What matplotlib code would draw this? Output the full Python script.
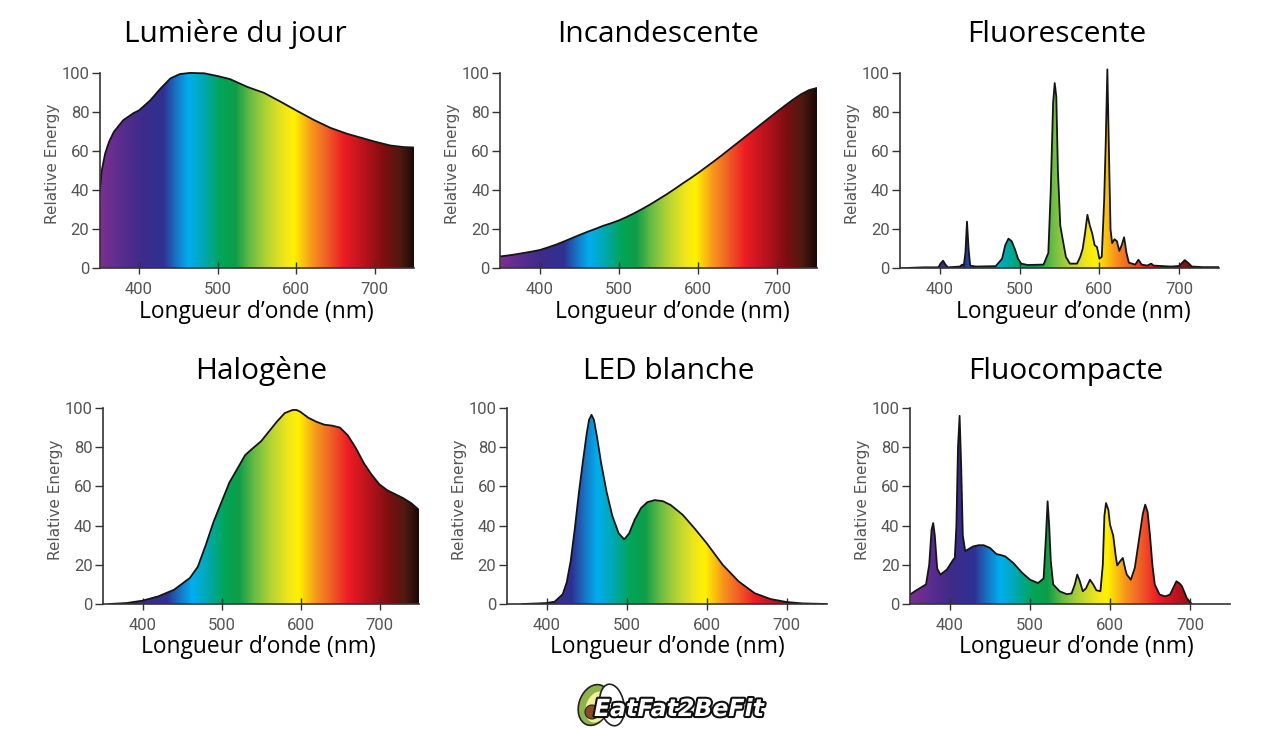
import matplotlib
matplotlib.use('Agg')
import matplotlib.pyplot as plt
import matplotlib.patheffects as pe
import numpy as np
from matplotlib.colors import LinearSegmentedColormap
from matplotlib.patches import Polygon, Ellipse, Circle

# Données (longueur d'onde en nm, énergie relative)
daylight_nm = [350, 352.5, 357, 362, 368, 380, 393, 400, 414, 427, 440, 452, 465, 483,
               500, 516, 538, 559, 580, 600, 623, 644, 665, 687, 700, 720, 737, 750]
daylight_e = [38.5, 50, 59, 65, 70, 76, 79.6, 81, 86, 92, 97.4, 99.6, 100.2, 100,
              98.6, 97, 93, 90, 85.5, 81, 76, 72, 69, 66.5, 65, 63, 62.2, 62]

incand_nm = [350, 360, 370, 380, 390, 400, 410, 420, 430, 440, 450, 460, 470, 480,
             490, 500, 510, 520, 530, 540, 550, 560, 570, 580, 590, 600, 610, 620,
             630, 640, 650, 660, 670, 680, 690, 700, 710, 720, 730, 740, 750]
incand_e = [6.2, 6.7, 7.3, 8, 8.7, 9.5, 10.8, 12.2, 13.8, 15.5, 17.2, 18.8, 20.3, 21.9,
            23.2, 24.7, 26.5, 28.5, 30.7, 33, 35.5, 38, 40.7, 43.5, 46.2, 49, 52, 55,
            58.1, 61.3, 64.5, 67.7, 70.9, 74.1, 77.3, 80.5, 83.6, 86.6, 89.3, 91.4, 92.5]

fluo_nm = [350, 360, 380, 398, 401, 404, 407, 410, 425, 428, 430, 432, 434, 436, 438,
           445, 470, 478, 482, 486, 490, 494, 498, 502, 510, 530, 536, 539, 542, 544,
           546, 548, 551, 554, 558, 563, 572, 576, 579, 582, 585, 588, 591, 594, 597,
           600, 603, 606, 608, 610, 612, 614, 616, 619, 622, 625, 628, 631, 634, 637,
           645, 649, 653, 660, 665, 668, 690, 700, 704, 707, 711, 716, 730, 750]
fluo_e = [0, 0.3, 0.6, 0.6, 2.5, 4, 2, 0.6, 1, 2, 1.5, 8, 24, 10, 1.5,
          1, 1.2, 5, 12, 15.3, 14, 10, 5, 2.5, 1.8, 2, 8, 40, 85, 95,
          88, 50, 22, 15, 6, 2.5, 2.5, 6, 10, 18, 27.5, 22, 18, 12, 11,
          5, 6, 35, 65, 102, 60, 20, 13, 15, 14, 9, 12, 16, 8, 3,
          2, 4.5, 2, 1.5, 2.5, 1.5, 1, 1.3, 3, 4.3, 3, 1, 0.7, 0.7]

halo_nm = [358, 380, 400, 420, 440, 460, 470, 480, 490, 500, 510, 520, 530, 540, 550,
           560, 570, 580, 590, 595, 600, 610, 620, 630, 640, 650, 660, 670, 680, 690,
           700, 710, 720, 730, 740, 750]
halo_e = [0, 0.5, 1.7, 3.9, 7.3, 13.3, 19, 30, 42, 52, 62, 69, 76, 79.6, 83,
          88, 93, 97.4, 99, 99, 98, 95, 93, 91.5, 91, 90, 86, 79.6, 72, 66,
          61, 58, 56, 54, 51.5, 48]

led_nm = [370, 390, 400, 410, 420, 425, 430, 435, 440, 445, 450, 453, 456, 459, 463,
          468, 475, 482, 490, 497, 503, 510, 518, 526, 535, 545, 555, 570, 585, 600,
          620, 640, 660, 680, 700, 720, 750]
led_e = [0, 0.3, 0.5, 1.2, 5, 11, 22, 38, 56, 72, 87, 94, 96.5, 94, 85,
         72, 57, 45, 36, 33, 36, 43, 49, 52, 53, 52.5, 50.5, 45.5, 38.5, 31,
         20, 11.5, 5.5, 2.5, 1, 0.3, 0]

cfl_nm = [350, 356, 364, 370, 374, 377, 379, 381, 384, 388, 396, 404, 406, 408, 410,
          412, 414, 416, 419, 429, 436, 442, 450, 458, 465, 469, 479, 490, 500, 510,
          517, 520, 522, 524, 526, 529, 537, 546, 552, 556, 559, 562, 566, 570, 575,
          579, 583, 588, 591, 593, 595, 598, 600, 604, 607, 609, 613, 616, 619, 621,
          626, 631, 637, 641, 644, 647, 650, 653, 656, 662, 669, 675, 680, 683, 687,
          690, 696, 702]
cfl_e = [4.8, 6.5, 8.5, 10, 20, 38, 41.3, 35, 18, 15, 17.5, 22.6, 23.5, 40, 80,
         96, 70, 35, 27, 29.4, 30, 30, 28.6, 25.5, 24.8, 24.3, 21, 16, 12.4, 10.7,
         13, 35, 52.4, 40, 22, 10, 6.5, 5, 5.4, 10, 15, 12, 6.5, 8, 12.4,
         10, 7, 6.5, 20, 45, 51.5, 48, 40.5, 35, 25, 19.7, 22, 23.5, 18, 15,
         12.4, 18.4, 35, 46, 50.7, 47, 35, 20, 9.9, 4.8, 3.9, 4.8, 9, 11.6, 10.5,
         9, 3, 0]

titles = ['Lumière du jour', 'Incandescente', 'Fluorescente',
          'Halogène', 'LED blanche', 'Fluocompacte']
series = [(daylight_nm, daylight_e), (incand_nm, incand_e), (fluo_nm, fluo_e),
          (halo_nm, halo_e), (led_nm, led_e), (cfl_nm, cfl_e)]
x_ticks = [400, 500, 600, 700]
y_ticks = [0, 20, 40, 60, 80, 100]

# Couleurs du spectre visible
spec_nm = [350, 375, 400, 430, 445, 462, 482, 502, 522, 542, 562, 585, 597, 620,
           640, 660, 690, 712, 732, 750]
spec_col = ['#7b2f91', '#5b2d8e', '#3f2b8a', '#2e3192', '#1a6fc0', '#00aeef',
            '#00a8b0', '#00a65a', '#0f9d48', '#6cbd45', '#b5d334', '#f4e61a',
            '#fff200', '#f7941d', '#f05a28', '#ed1c24', '#b0121b', '#7d0e10',
            '#4f1a10', '#1c0805']
spec_cmap = LinearSegmentedColormap.from_list(
    'spectre', [((n - 350) / 400, c) for n, c in zip(spec_nm, spec_col)])

W, H = 1280, 729
TOP = 104
fig = plt.figure(figsize=(W / 100, H / 100), dpi=100)

# (gauche px, droite px, y du 0 px, y du 100 px)
boxes = [(99.7, 414, 268.5, 73.3), (500.4, 817, 268.5, 73.3), (900, 1219, 268.5, 73.3),
         (103, 419, 604, 408), (506.7, 826.7, 604, 408), (910, 1230, 604, 408)]
title_pos = [(235, 42), (658, 42), (1057, 42), (261, 379), (669, 379), (1066, 379)]
xlabel_pos = [(256, 318), (672, 318), (1073, 318), (258, 653), (667, 653), (1076, 653)]
ylabel_mid = [164, 164, 164, 500, 500, 500]

grad = np.linspace(350, 750, 800).reshape(1, -1)

for i in range(6):
    left, right, y0, y100 = boxes[i]
    h100 = y0 - y100
    top_px = y0 - h100 * TOP / 100
    ax = fig.add_axes([left / W, 1 - y0 / H, (right - left) / W, (y0 - top_px) / H])
    nm = np.array(series[i][0], dtype=float)
    e = np.array(series[i][1], dtype=float)

    im = ax.imshow(grad, cmap=spec_cmap, extent=[350, 750, 0, TOP], aspect='auto',
                   origin='lower', interpolation='bilinear')
    verts = np.column_stack([np.r_[nm, nm[::-1]], np.r_[e, np.zeros(len(e))]])
    clip = Polygon(verts, closed=True, transform=ax.transData,
                   facecolor='none', edgecolor='none')
    ax.add_patch(clip)
    im.set_clip_path(clip)
    ax.plot(nm, e, color='#151515', lw=1.3, solid_joinstyle='round')

    ax.set_xlim(350, 750)
    ax.set_ylim(0, TOP)
    for s in ['top', 'right']:
        ax.spines[s].set_visible(False)
    ax.spines['left'].set_bounds(0, 100)
    ax.spines['bottom'].set_bounds(350, 750)
    for s in ['left', 'bottom']:
        ax.spines[s].set_color('#333333')
        ax.spines[s].set_linewidth(1.2)
    ax.set_xticks(x_ticks)
    ax.set_yticks(y_ticks)
    ax.tick_params(axis='x', direction='inout', length=8, width=1, color='#333333',
                   labelcolor='#555555', labelsize=12, pad=6)
    ax.tick_params(axis='y', direction='out', length=6, width=1, color='#333333',
                   labelcolor='#555555', labelsize=12, pad=1.5)
    for lab in ax.get_xticklabels() + ax.get_yticklabels():
        lab.set_family(['Roboto', 'DejaVu Sans'])
    ax.set_ylabel('Relative Energy', color='#555555', fontsize=11,
                  family=['DejaVu Sans'])
    ax.yaxis.set_label_coords(-40 / (right - left), (y0 - ylabel_mid[i]) / (y0 - top_px))

    tx, ty = title_pos[i]
    fig.text(tx / W, 1 - ty / H, titles[i], ha='center', va='baseline', fontsize=21.5,
             family=['Open Sans', 'DejaVu Sans'], color='black')
    lx, ly = xlabel_pos[i]
    fig.text(lx / W, 1 - ly / H, 'Longueur d’onde (nm)', ha='center', va='baseline',
             fontsize=16.4, family=['Open Sans', 'DejaVu Sans'], color='black')

# Logo
lax = fig.add_axes([560 / W, 0, 200 / W, 50 / H])
lax.set_xlim(560, 760)
lax.set_ylim(729, 679)
lax.axis('off')
lax.add_patch(Ellipse((594, 705), 30, 42, angle=20, facecolor='#8db34a', edgecolor='#222222', lw=1.2))
lax.add_patch(Ellipse((597, 707), 22, 32, angle=20, facecolor='#f3ee9a', edgecolor='none'))
lax.add_patch(Ellipse((612, 705), 24, 42, angle=-10, facecolor='white', edgecolor='#222222', lw=1.2))
lax.add_patch(Circle((592, 712), 7, facecolor='#8a4b22', edgecolor='#222222', lw=0.8))
lax.text(679, 709, 'EatFat2BeFit', ha='center', va='center', fontsize=17,
         fontweight='bold', style='italic', color='white', family='DejaVu Sans',
         path_effects=[pe.withStroke(linewidth=3, foreground='#111111')])

fig.savefig('out.png', dpi=100, facecolor='white')
